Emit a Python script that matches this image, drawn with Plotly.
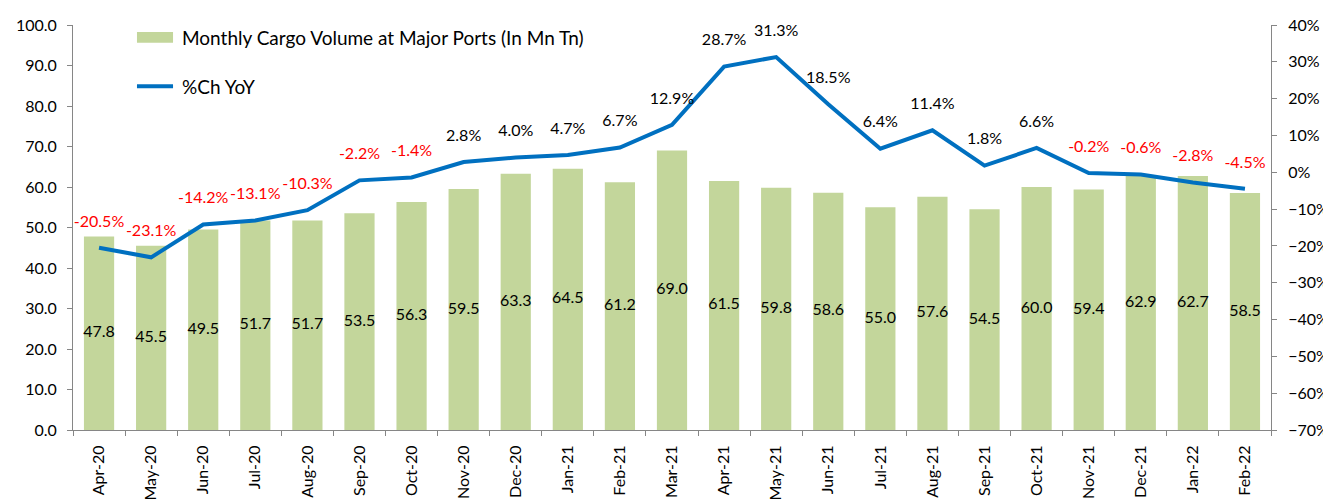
import plotly.graph_objects as go

months = ["Apr-20", "May-20", "Jun-20", "Jul-20", "Aug-20", "Sep-20", "Oct-20", "Nov-20",
          "Dec-20", "Jan-21", "Feb-21", "Mar-21", "Apr-21", "May-21", "Jun-21", "Jul-21",
          "Aug-21", "Sep-21", "Oct-21", "Nov-21", "Dec-21", "Jan-22", "Feb-22"]
cargo = [47.8, 45.5, 49.5, 51.7, 51.7, 53.5, 56.3, 59.5, 63.3, 64.5, 61.2, 69.0,
         61.5, 59.8, 58.6, 55.0, 57.6, 54.5, 60.0, 59.4, 62.9, 62.7, 58.5]
yoy = [-20.5, -23.1, -14.2, -13.1, -10.3, -2.2, -1.4, 2.8, 4.0, 4.7, 6.7, 12.9,
       28.7, 31.3, 18.5, 6.4, 11.4, 1.8, 6.6, -0.2, -0.6, -2.8, -4.5]

BAR_NAME = "Monthly Cargo Volume at Major Ports (In Mn Tn)"
LINE_NAME = "%Ch YoY"
BAR_COLOR = "#C3D69B"
LINE_COLOR = "#0070C0"
FONT = "Lato, 'Open Sans', sans-serif"
FS = 16

fig = go.Figure()
fig.add_trace(go.Bar(
    x=months, y=cargo, name=BAR_NAME,
    marker=dict(color=BAR_COLOR, line=dict(width=0)),
    yaxis="y", showlegend=False, hoverinfo="x+y",
))
# bar value labels, centred in each bar
fig.add_trace(go.Scatter(
    x=months, y=[v / 2 for v in cargo], mode="text",
    text=[f"{v:.1f}" for v in cargo], textposition="middle center",
    textfont=dict(size=FS, color="#000000", family=FONT),
    yaxis="y", showlegend=False, hoverinfo="skip",
))
fig.add_trace(go.Scatter(
    x=months, y=yoy, name=LINE_NAME, mode="lines+markers+text",
    line=dict(color=LINE_COLOR, width=4),
    marker=dict(size=26, color="rgba(0,0,0,0)"),
    text=[f"{v:.1f}%" for v in yoy], textposition="top center",
    textfont=dict(size=FS, family=FONT, color=["#FF0000" if v < 0 else "#000000" for v in yoy]),
    yaxis="y2", cliponaxis=False, showlegend=False,
))

# legend drawn in Excel style (wide swatches, wide spacing)
fig.add_shape(type="rect", xref="paper", yref="paper", x0=0.0534, x1=0.0835, y0=0.956, y1=0.983,
              fillcolor=BAR_COLOR, line=dict(width=0))
fig.add_shape(type="line", xref="paper", yref="paper", x0=0.0534, x1=0.0835, y0=0.849, y1=0.849,
              line=dict(color=LINE_COLOR, width=4))
fig.add_annotation(xref="paper", yref="paper", x=0.0893, y=0.9695, xanchor="left", yanchor="middle",
                   text=BAR_NAME, showarrow=False, font=dict(size=19, family=FONT, color="#000000"))
fig.add_annotation(xref="paper", yref="paper", x=0.0893, y=0.849, xanchor="left", yanchor="middle",
                   text=LINE_NAME, showarrow=False, font=dict(size=19, family=FONT, color="#000000"))

fig.update_layout(
    width=1331, height=502,
    margin=dict(l=65, r=68, t=17, b=80),
    paper_bgcolor="white", plot_bgcolor="white",
    font=dict(family=FONT, size=FS, color="#000000"),
    bargap=0.42,
    xaxis=dict(range=[-0.5, len(months) - 0.5], showline=True, linecolor="#868686", linewidth=1,
               ticks="outside", tickson="boundaries", ticklen=5, tickcolor="#868686", tickangle=-90,
               ticklabelstandoff=8,
               tickfont=dict(size=FS, family=FONT), showgrid=False, automargin=False),
    yaxis=dict(range=[0, 100], dtick=10, tickformat=".1f", showline=True, linecolor="#868686",
               ticks="outside", ticklen=5, tickcolor="#868686", showgrid=False, zeroline=False,
               ticklabelstandoff=7,
               tickfont=dict(size=FS, family=FONT), automargin=False),
    yaxis2=dict(range=[-70, 40], dtick=10, ticksuffix="%", overlaying="y", side="right",
                showline=True, linecolor="#868686", ticks="outside", ticklen=5,
                tickcolor="#868686", showgrid=False, zeroline=False, ticklabelstandoff=8,
                tickfont=dict(size=FS, family=FONT), automargin=False),
)

fig.write_html("out.html")
